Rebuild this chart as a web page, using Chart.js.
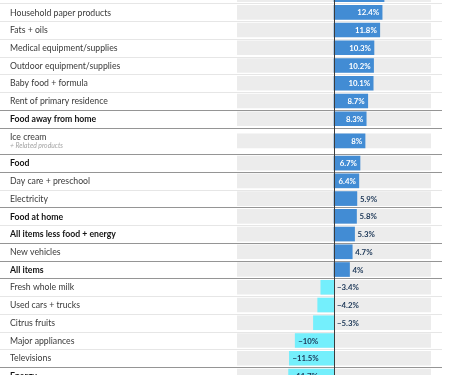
<!DOCTYPE html>
<html>
<head>
<meta charset="utf-8">
<script src="https://cdn.jsdelivr.net/npm/chart.js@4.4.0/dist/chart.umd.min.js"></script>
<style>
  html, body { margin: 0; padding: 0; background: #fff; overflow: hidden; }
  #wrap { position: relative; width: 450px; height: 375px; }
</style>
</head>
<body>
<div id="wrap"><canvas id="cpi-chart" width="450" height="375"></canvas></div>
<script>
// Datos (la primera fila queda cortada arriba, la ultima abajo)
const categories = ['', 'Household paper products', 'Fats + oils', 'Medical equipment/supplies',
  'Outdoor equipment/supplies', 'Baby food + formula', 'Rent of primary residence',
  'Food away from home', 'Ice cream', 'Food', 'Day care + preschool', 'Electricity',
  'Food at home', 'All items less food + energy', 'New vehicles', 'All items',
  'Fresh whole milk', 'Used cars + trucks', 'Citrus fruits', 'Major appliances',
  'Televisions', 'Energy'];
const changes = [12.9, 12.4, 11.8, 10.3, 10.2, 10.1, 8.7, 8.3, 8, 6.7, 6.4, 5.9, 5.8, 5.3,
  4.7, 4, -3.4, -4.2, -5.3, -10, -11.5, -11.7];
const aggregates = ['Food away from home', 'Food', 'Food at home',
  'All items less food + energy', 'All items', 'Energy'];
const notes = { 'Ice cream': '+ Related products' };
const axisRange = [-25, 25];

// Posicion de cada fila (las filas con nota ocupan fila y media)
let edge = -1.5;
const rows = categories.map((name, i) => {
  const size = notes[name] ? 1.5 : 1;
  const row = { name, value: changes[i], top: edge, pos: edge + size / 2, bold: aggregates.includes(name) };
  edge += size;
  return row;
});

// Ventana visible
const firstRowY = 12.3;
const rowPx = 17.74;
const viewMin = -firstRowY / rowPx;
const viewMax = (375 - firstRowY) / rowPx;

const fmt = v => (v < 0 ? '\u2212' : '') + Math.abs(v) + '%';

const rowDecor = {
  id: 'rowDecor',
  beforeDatasetsDraw(chart) {
    const { ctx, scales: { y } } = chart;
    ctx.save();
    // separadores
    for (let i = 1; i < rows.length; i++) {
      const yy = Math.round(y.getPixelForValue(rows[i].top)) + 0.5;
      ctx.strokeStyle = rows[i].bold !== rows[i - 1].bold ? '#959595' : '#e6e6e6';
      ctx.lineWidth = 1;
      ctx.beginPath();
      ctx.moveTo(0, yy);
      ctx.lineTo(442, yy);
      ctx.stroke();
    }
    // etiquetas
    ctx.textBaseline = 'middle';
    ctx.textAlign = 'left';
    rows.forEach(r => {
      const cy = y.getPixelForValue(r.pos) + 0.4;
      ctx.font = (r.bold ? '700 ' : '400 ') + '8.7px Lato';
      ctx.fillStyle = r.bold ? '#141414' : '#3a3a3a';
      if (notes[r.name]) {
        ctx.fillText(r.name, 10, cy - 4.6);
        ctx.font = 'italic 400 6.8px Lato';
        ctx.fillStyle = '#a3a3a3';
        ctx.fillText(notes[r.name], 10, cy + 4.6);
      } else {
        ctx.fillText(r.name, 10, cy);
      }
    });
    ctx.restore();
  },
  afterDatasetsDraw(chart) {
    const { ctx, scales: { x, y } } = chart;
    const zero = x.getPixelForValue(0);
    ctx.save();
    ctx.strokeStyle = '#3b3b3b';
    ctx.lineWidth = 1;
    ctx.beginPath();
    ctx.moveTo(Math.round(zero) + 0.5, 0);
    ctx.lineTo(Math.round(zero) + 0.5, chart.height);
    ctx.stroke();

    ctx.font = '700 7.8px Lato';
    ctx.textBaseline = 'middle';
    rows.forEach(r => {
      const cy = y.getPixelForValue(r.pos) + 0.5;
      const end = x.getPixelForValue(r.value);
      const txt = fmt(r.value);
      const w = ctx.measureText(txt).width;
      const inside = Math.abs(end - zero) >= w + 7;
      if (r.value > 0 && inside) {
        ctx.textAlign = 'right';
        ctx.fillStyle = '#ffffff';
        ctx.fillText(txt, end - 3, cy);
      } else {
        ctx.textAlign = 'left';
        ctx.fillStyle = '#1b3656';
        const at = r.value > 0 ? end + 3 : (inside ? end + 3 : zero + 3);
        ctx.fillText(txt, at, cy);
      }
    });
    ctx.restore();
  }
};

function draw() {
  new Chart(document.getElementById('cpi-chart'), {
    type: 'bar',
    data: {
      datasets: [
        {
          label: 'Change',
          data: rows.map(r => ({ x: r.value, y: r.pos })),
          backgroundColor: c => (c.raw && c.raw.x < 0 ? '#74effc' : '#428cd4'),
          barThickness: 14,
          grouped: false,
          order: 0
        },
        {
          label: 'Track',
          data: rows.map(r => ({ x: axisRange, y: r.pos })),
          backgroundColor: '#ececec',
          barThickness: 14,
          grouped: false,
          order: 1
        }
      ]
    },
    options: {
      indexAxis: 'y',
      responsive: false,
      animation: false,
      layout: { padding: { left: 237, right: 19, top: 0, bottom: 0 } },
      scales: {
        x: { type: 'linear', min: axisRange[0], max: axisRange[1], display: false, offset: false },
        y: { type: 'linear', reverse: true, min: viewMin, max: viewMax, display: false, offset: false }
      },
      plugins: {
        legend: { display: false },
        tooltip: { enabled: false }
      }
    },
    plugins: [rowDecor]
  });
}

Promise.all([
  document.fonts.load('400 9px Lato'),
  document.fonts.load('700 9px Lato'),
  document.fonts.load('italic 400 7px Lato')
]).then(draw, draw);
</script>
</body>
</html>
